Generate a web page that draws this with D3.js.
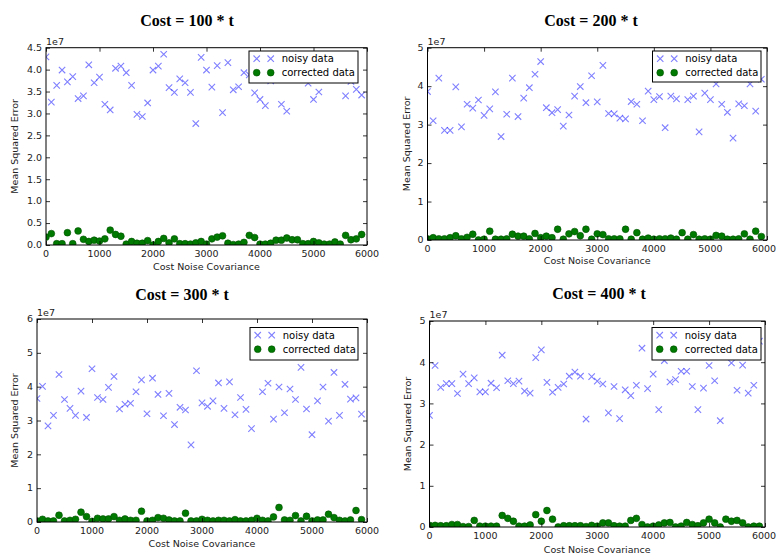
<!DOCTYPE html>
<html>
<head>
<meta charset="utf-8">
<script src="https://cdn.jsdelivr.net/npm/d3@7"></script>
<style>
  body { margin: 0; background: #fff; }
</style>
</head>
<body>
<svg id="chart" width="777" height="557"></svg>
<script>
// x values shared by every panel
const covariance = [0,100,200,300,400,500,600,700,800,900,1000,1100,1200,1300,1400,1500,1600,1700,1800,1900,
  2000,2100,2200,2300,2400,2500,2600,2700,2800,2900,3000,3100,3200,3300,3400,3500,3600,3700,3800,3900,
  4000,4100,4200,4300,4400,4500,4600,4700,4800,4900,5000,5100,5200,5300,5400,5500,5600,5700,5800,5900];

// values in units of 1e7
const noisy100 = [4.29,3.26,3.64,3.99,3.72,3.84,3.34,3.40,4.11,3.70, 3.83,3.21,3.08,4.03,4.08,3.93,3.64,2.98,2.93,3.24,
  3.99,4.08,4.35,3.59,3.48,3.79,3.70,3.48,2.77,4.28, 3.99,3.60,4.09,3.02,4.16,3.54,3.61,3.93,3.88,3.47,
  3.32,3.18,3.74,3.95,3.21,3.05,4.20,3.80,4.00,3.69, 3.32,3.49,4.10,3.90,4.20,3.80,3.40,3.73,3.55,3.42];
const corrected100 = [0.18,0.26,0.03,0.03,0.28,0.03,0.32,0.13,0.08,0.11, 0.09,0.14,0.34,0.24,0.20,0.02,0.08,0.04,0.04,0.10,
  0.00,0.08,0.15,0.05,0.14,0.03,0.03,0.02,0.05,0.08, 0.02,0.14,0.18,0.21,0.04,0.01,0.02,0.06,0.22,0.17,
  0.02,0.02,0.04,0.11,0.11,0.16,0.12,0.12,0.03,0.03, 0.08,0.05,0.02,0.02,0.07,0.02,0.22,0.12,0.14,0.24];

const noisy200 = [3.86,3.10,4.21,2.85,2.85,3.98,2.94,3.53,3.43,3.64, 3.24,3.41,3.85,2.69,3.27,4.21,3.21,3.69,3.96,4.31,
  4.64,3.44,3.31,3.39,2.96,3.25,3.74,3.99,3.57,4.27, 3.59,4.54,3.29,3.28,3.17,3.15,3.60,3.53,3.10,3.87,
  3.65,3.73,2.92,3.74,3.67,4.30,3.65,3.74,2.81,3.82, 3.65,4.06,3.53,3.32,2.65,3.54,3.49,4.06,3.35,4.18];
const corrected200 = [0.03,0.06,0.03,0.03,0.06,0.11,0.03,0.07,0.15,0.00, 0.02,0.23,0.02,0.02,0.03,0.15,0.10,0.10,0.03,0.17,
  0.06,0.10,0.06,0.28,0.02,0.16,0.22,0.11,0.28,0.02, 0.16,0.14,0.03,0.03,0.03,0.28,0.02,0.19,0.02,0.05,
  0.02,0.03,0.03,0.05,0.02,0.19,0.02,0.14,0.02,0.03, 0.02,0.12,0.10,0.02,0.02,0.03,0.16,0.02,0.23,0.09];

const noisy300 = [3.65,4.01,2.84,3.15,4.36,3.62,3.36,3.15,3.87,3.09, 4.53,3.68,3.62,3.98,4.30,3.34,3.48,3.51,3.85,4.20,
  3.20,4.25,3.77,3.14,3.80,2.88,3.39,3.31,2.28,4.47, 3.52,3.42,3.58,4.11,3.36,4.14,3.17,3.68,3.33,2.76,
  4.90,3.85,4.10,3.04,3.99,3.23,3.93,3.62,4.57,3.34, 2.58,3.58,3.99,2.98,4.42,3.15,4.07,3.63,3.67,3.19];
const corrected300 = [0.03,0.08,0.03,0.03,0.20,0.03,0.05,0.08,0.29,0.16, 0.02,0.11,0.09,0.09,0.16,0.05,0.09,0.05,0.05,0.32,
  0.03,0.05,0.13,0.11,0.06,0.03,0.03,0.26,0.03,0.03, 0.08,0.05,0.03,0.05,0.05,0.03,0.07,0.03,0.03,0.05,
  0.11,0.05,0.03,0.15,0.43,0.06,0.05,0.19,0.03,0.17, 0.03,0.06,0.06,0.23,0.13,0.05,0.03,0.06,0.34,0.07];

const noisy400 = [2.71,3.92,3.39,3.48,3.48,3.24,3.71,3.48,3.62,3.28, 3.28,3.49,3.38,4.17,3.55,3.48,3.54,3.30,3.25,4.11,
  4.30,3.51,3.27,3.39,3.47,3.66,3.76,3.66,2.62,3.65, 3.54,3.47,2.77,3.41,2.63,3.33,3.19,3.44,4.34,3.36,
  3.71,2.85,4.04,3.52,3.58,3.78,3.78,3.41,2.85,3.37, 3.92,3.55,2.58,4.20,3.98,3.32,3.93,3.25,3.44,4.51];
const corrected400 = [0.04,0.04,0.03,0.03,0.06,0.06,0.01,0.01,0.16,0.02, 0.02,0.02,0.02,0.28,0.21,0.14,0.02,0.02,0.05,0.30,
  0.14,0.40,0.19,0.00,0.03,0.03,0.03,0.03,0.01,0.04, 0.02,0.10,0.10,0.03,0.02,0.02,0.16,0.21,0.06,0.00,
  0.02,0.05,0.10,0.11,0.00,0.02,0.11,0.06,0.03,0.10, 0.19,0.10,0.00,0.19,0.14,0.16,0.10,0.00,0.02,0.02];

const titles = ["Cost = 100 * t", "Cost = 200 * t", "Cost = 300 * t", "Cost = 400 * t"];
const xTicks = [0, 1000, 2000, 3000, 4000, 5000, 6000];
const yTicks100 = [0, 0.5, 1, 1.5, 2, 2.5, 3, 3.5, 4, 4.5];
const yTicks200 = [0, 1, 2, 3, 4, 5];
const yTicks300 = [0, 1, 2, 3, 4, 5, 6];
const yTicks400 = [0, 1, 2, 3, 4, 5];
const legendLabels = ["noisy data", "corrected data"];

// layout of the four subplots (pixels)
const panels = [
  { title: titles[0], noisy: noisy100, corrected: corrected100, yTicks: yTicks100, fmt: d3.format(".1f"),
    left: 46, right: 367, top: 47.7, bottom: 245, titleX: 187, titleY: 20, ylabX: 15, xlabY: 267,
    legend: { x: 249, y: 51, w: 109, h: 32 } },
  { title: titles[1], noisy: noisy200, corrected: corrected200, yTicks: yTicks200, fmt: d3.format("d"),
    left: 427.5, right: 767, top: 47.7, bottom: 240, titleX: 591, titleY: 20, ylabX: 407, xlabY: 261,
    legend: { x: 652.5, y: 51, w: 108.5, h: 31 } },
  { title: titles[2], noisy: noisy300, corrected: corrected300, yTicks: yTicks300, fmt: d3.format("d"),
    left: 37, right: 367, top: 319, bottom: 522, titleX: 182, titleY: 294, ylabX: 15, xlabY: 544,
    legend: { x: 250, y: 327.5, w: 108, h: 32.5 } },
  { title: titles[3], noisy: noisy400, corrected: corrected400, yTicks: yTicks400, fmt: d3.format("d"),
    left: 429.5, right: 765, top: 321, bottom: 527, titleX: 599, titleY: 293, ylabX: 408, xlabY: 550,
    legend: { x: 652, y: 327.5, w: 109, h: 32.5 } }
];

const noisyColor = "#0000ff";
const correctedColor = "#007a00";
const sans = "'DejaVu Sans', sans-serif";
const pageWidth = 777;

const svg = d3.select("#chart");

const crossPath = (s) => `M${-s},${-s}L${s},${s}M${-s},${s}L${s},${-s}`;

const drawPanel = (p, idx) => {
    const x = d3.scaleLinear().domain([0, 6000]).range([p.left, p.right]);
    const yMax = p.yTicks[p.yTicks.length - 1];
    const y = d3.scaleLinear().domain([0, yMax]).range([p.bottom, p.top]);
    const w = p.right - p.left;
    const h = p.bottom - p.top;

    const g = svg.append("g");

    const clipId = "clip" + idx;
    g.append("clipPath").attr("id", clipId)
        .append("rect")
        .attr("x", p.left).attr("y", p.top)
        .attr("width", w).attr("height", h);

    const marks = g.append("g").attr("clip-path", `url(#${clipId})`);

    marks.append("g")
        .selectAll("path")
        .data(covariance)
        .join("path")
        .attr("transform", (d, i) => `translate(${x(d)},${y(p.noisy[i])})`)
        .attr("d", crossPath(3.2))
        .attr("stroke", noisyColor)
        .attr("stroke-opacity", 0.5)
        .attr("stroke-width", 1.1)
        .attr("fill", "none");

    marks.append("g")
        .selectAll("circle")
        .data(covariance)
        .join("circle")
        .attr("cx", d => x(d))
        .attr("cy", (d, i) => y(p.corrected[i]))
        .attr("r", 3.4)
        .attr("fill", correctedColor)
        .attr("stroke", "#005000")
        .attr("stroke-width", 0.6);

    // ticks pointing inwards on all four sides
    const tickLen = 4;
    const bottomAxis = d3.axisBottom(x).tickValues(xTicks).tickSize(-tickLen).tickFormat("").tickSizeOuter(0);
    const topAxis = d3.axisTop(x).tickValues(xTicks).tickSize(-tickLen).tickFormat("").tickSizeOuter(0);
    const leftAxis = d3.axisLeft(y).tickValues(p.yTicks).tickSize(-tickLen).tickFormat("").tickSizeOuter(0);
    const rightAxis = d3.axisRight(y).tickValues(p.yTicks).tickSize(-tickLen).tickFormat("").tickSizeOuter(0);

    const axes = [
        [bottomAxis, `translate(0,${p.bottom})`],
        [topAxis, `translate(0,${p.top})`],
        [leftAxis, `translate(${p.left},0)`],
        [rightAxis, `translate(${p.right},0)`]
    ];
    axes.forEach(([ax, tr]) => {
        g.append("g").attr("transform", tr).call(ax)
            .call(a => a.select(".domain").remove())
            .call(a => a.selectAll("line").attr("stroke", "#000").attr("stroke-width", 0.8));
    });

    // tick labels; the last one is kept inside the page
    g.append("g")
        .attr("font-family", sans).attr("font-size", 9.5).attr("fill", "#222")
        .selectAll("text")
        .data(xTicks)
        .join("text")
        .attr("x", d => Math.min(x(d), pageWidth - 13))
        .attr("y", p.bottom + 8.5)
        .attr("dy", "0.35em")
        .attr("text-anchor", "middle")
        .text(d => d);

    g.append("g")
        .attr("font-family", sans).attr("font-size", 9.5).attr("fill", "#222")
        .attr("text-anchor", "end")
        .selectAll("text")
        .data(p.yTicks)
        .join("text")
        .attr("x", p.left - 4)
        .attr("y", d => y(d))
        .attr("dy", "0.35em")
        .text(d => p.fmt(d));

    g.append("text")
        .attr("x", p.left).attr("y", p.top - 3)
        .attr("font-family", sans).attr("font-size", 9.5).attr("fill", "#222")
        .text("1e7");

    // frame
    g.append("rect")
        .attr("x", p.left).attr("y", p.top)
        .attr("width", w).attr("height", h)
        .attr("fill", "none").attr("stroke", "#000").attr("stroke-width", 1);

    // axis labels
    g.append("text")
        .attr("x", (p.left + p.right) / 2).attr("y", p.xlabY)
        .attr("dy", "0.35em")
        .attr("text-anchor", "middle")
        .attr("font-family", sans).attr("font-size", 9.5).attr("fill", "#222")
        .text("Cost Noise Covariance");

    g.append("text")
        .attr("transform", `translate(${p.ylabX},${(p.top + p.bottom) / 2}) rotate(-90)`)
        .attr("dy", "0.35em")
        .attr("text-anchor", "middle")
        .attr("font-family", sans).attr("font-size", 9.5).attr("fill", "#222")
        .text("Mean Squared Error");

    // title
    g.append("text")
        .attr("x", p.titleX).attr("y", p.titleY)
        .attr("dy", "0.35em")
        .attr("text-anchor", "middle")
        .attr("font-family", "'Liberation Serif', 'Times New Roman', serif")
        .attr("font-weight", "bold")
        .attr("font-size", 16)
        .attr("fill", "#000")
        .text(p.title);

    // legend
    const L = p.legend;
    const lg = g.append("g").attr("transform", `translate(${L.x},${L.y})`);
    lg.append("rect")
        .attr("width", L.w).attr("height", L.h)
        .attr("fill", "#fff").attr("stroke", "#000").attr("stroke-width", 1);

    legendLabels.forEach((label, i) => {
        const ry = 7.7 + i * 14;
        [7.7, 21.7].forEach(mx => {
            if (i === 0) {
                lg.append("path")
                    .attr("transform", `translate(${mx},${ry})`)
                    .attr("d", crossPath(3.2))
                    .attr("stroke", noisyColor).attr("stroke-opacity", 0.5)
                    .attr("stroke-width", 1.1).attr("fill", "none");
            } else {
                lg.append("circle")
                    .attr("cx", mx).attr("cy", ry).attr("r", 3.4)
                    .attr("fill", correctedColor).attr("stroke", "#005000").attr("stroke-width", 0.6);
            }
        });
        lg.append("text")
            .attr("x", 32.7).attr("y", ry)
            .attr("dy", "0.35em")
            .attr("font-family", sans).attr("font-size", 10).attr("fill", "#000")
            .text(label);
    });
};

panels.forEach(drawPanel);
</script>
</body>
</html>
